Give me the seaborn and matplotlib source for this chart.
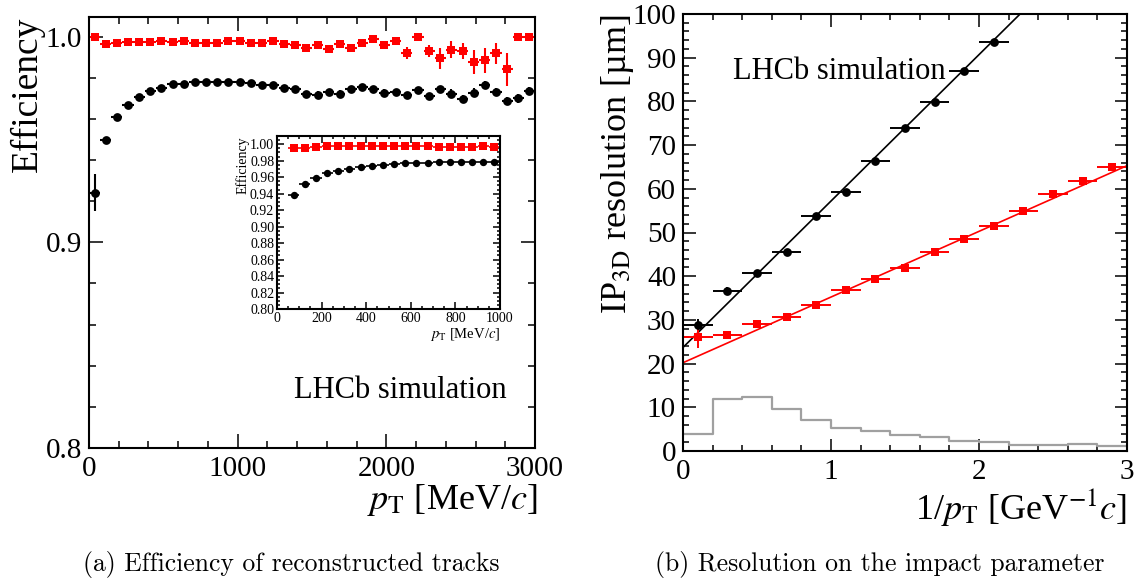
import numpy as np
import pandas as pd
import matplotlib
matplotlib.use("Agg")
import matplotlib.pyplot as plt
import seaborn as sns
from matplotlib.ticker import MultipleLocator, FormatStrFormatter

# ---------------- data ----------------
# (a) efficiency vs pT, 75 MeV bins
pt_centers = np.arange(37.5, 3000, 75.0)
pt_halfwidth = 37.5
eff_red = [1.000, 0.9962, 0.9967, 0.9975, 0.9975, 0.9975, 0.998, 0.9975, 0.998, 0.9967,
           0.9967, 0.9967, 0.9978, 0.9978, 0.9971, 0.9971, 0.9978, 0.9962, 0.9958, 0.9945,
           0.9958, 0.9939, 0.9963, 0.9944, 0.9967, 0.9989, 0.9957, 0.998, 0.9921, 0.9999,
           0.9931, 0.9894, 0.9937, 0.9931, 0.9877, 0.9885, 0.9918, 0.984, 1.000, 1.000]
eff_red_err = [0.0005] + [0.0008] * 27 + [0.003, 0.001, 0.003, 0.005, 0.004, 0.004,
                                           0.006, 0.006, 0.005, 0.008, 0.0005, 0.0005]
eff_black = [0.924, 0.9498, 0.9609, 0.9667, 0.9707, 0.9736, 0.9750, 0.9769, 0.9769, 0.9777,
             0.9777, 0.9777, 0.9777, 0.9777, 0.9775, 0.9766, 0.9763, 0.9750, 0.9744, 0.9723,
             0.9718, 0.9731, 0.9723, 0.9744, 0.9755, 0.9744, 0.9728, 0.9731, 0.9715, 0.9742,
             0.9710, 0.9745, 0.9723, 0.9697, 0.9728, 0.9764, 0.9731, 0.9685, 0.9699, 0.9734]
eff_black_err = [0.009] + [0.001] * 19 + [0.0015] * 12 + [0.002] * 8

# inset: 50 MeV bins up to 1000 MeV
inset_centers = np.arange(75, 1000, 50.0)
inset_halfwidth = 25
inset_black = [0.938, 0.952, 0.959, 0.965, 0.968, 0.9705, 0.9725, 0.974, 0.975, 0.976,
               0.9775, 0.9775, 0.9775, 0.978, 0.978, 0.978, 0.978, 0.978, 0.978]
inset_red = [0.996, 0.996, 0.997, 0.9975, 0.9975, 0.9975, 0.998, 0.9975, 0.998, 0.998,
             0.998, 0.998, 0.998, 0.9965, 0.9965, 0.9965, 0.997, 0.998, 0.997]

# (b) IP resolution vs 1/pT
invpt_black = [0.1, 0.3, 0.5, 0.7, 0.9, 1.1, 1.3, 1.5, 1.7, 1.9, 2.1]
ipres_black = [28.8, 36.7, 40.7, 45.5, 53.8, 59.2, 66.3, 74.0, 79.8, 86.9, 93.5]
ipres_black_err = [1.5, 0.8, 0.6, 0.5, 0.5, 0.5, 0.5, 0.5, 0.5, 0.5, 0.5]
invpt_red = [0.1, 0.3, 0.5, 0.7, 0.9, 1.1, 1.3, 1.5, 1.7, 1.9, 2.1, 2.3, 2.5, 2.7, 2.9]
ipres_red = [26.0, 26.5, 29.0, 30.7, 33.3, 36.9, 39.3, 41.9, 45.5, 48.5, 51.5, 54.9,
             58.7, 61.7, 65.1]
ipres_red_err = [2.5, 0.8, 0.6, 0.5, 0.5, 0.5, 0.5, 0.5, 0.5, 0.5, 0.5, 0.5, 0.5, 0.5, 0.5]
invpt_halfwidth = 0.1
fit_black = (23.7, 33.5)   # intercept, slope
fit_red = (20.2, 15.03)
hist_edges = [0.0, 0.2, 0.4, 0.6, 0.8, 1.0, 1.2, 1.4, 1.6, 1.8, 2.0, 2.2, 2.4, 2.6, 2.8, 3.0]
hist_vals = [3.9, 11.8, 12.4, 9.6, 7.2, 5.2, 4.6, 3.7, 3.1, 2.3, 2.1, 1.45, 1.45, 1.7, 1.2]

# ---------------- style ----------------
sns.set_theme(style="ticks")
SERIF = ["Liberation Serif", "DejaVu Serif"]
plt.rcParams["font.family"] = SERIF
plt.rcParams["mathtext.fontset"] = "stix"
plt.rcParams["axes.linewidth"] = 1.5
for k in ["text.color", "axes.labelcolor", "xtick.color", "ytick.color", "axes.edgecolor"]:
    plt.rcParams[k] = "black"

fig = plt.figure(figsize=(11.41, 5.86), dpi=100)

def root_style(ax, labelsize, major_len=9, minor_len=4.5, pad=5):
    ax.tick_params(which="both", direction="in", top=True, right=True,
                   width=1.1, colors="black", labelsize=labelsize, pad=pad,
                   labelfontfamily="Liberation Serif")
    ax.tick_params(which="major", length=major_len)
    ax.tick_params(which="minor", length=minor_len)
    for s in ax.spines.values():
        s.set_color("black")
        s.set_linewidth(1.5)
    ax.set_facecolor("white")

# ---------------- (a) ----------------
axa = fig.add_axes([89 / 1141, 1 - 448 / 586, 446 / 1141, 431 / 586])
axa.errorbar(pt_centers, eff_black, xerr=pt_halfwidth, yerr=eff_black_err, fmt="none",
             ecolor="black", elinewidth=1.5, capsize=0)
axa.errorbar(pt_centers, eff_red, xerr=pt_halfwidth, yerr=eff_red_err, fmt="none",
             ecolor="red", elinewidth=1.5, capsize=0)
sns.scatterplot(x=pt_centers, y=eff_black, ax=axa, marker="o", color="black", s=40,
                linewidth=0, zorder=3)
sns.scatterplot(x=pt_centers, y=eff_red, ax=axa, marker="s", color="red", s=40,
                linewidth=0, zorder=3)
axa.set_xlim(0, 3000)
axa.set_ylim(0.8, 1.0095)
axa.xaxis.set_major_locator(MultipleLocator(1000))
axa.xaxis.set_minor_locator(MultipleLocator(200))
axa.yaxis.set_major_locator(MultipleLocator(0.1))
axa.yaxis.set_minor_locator(MultipleLocator(0.02))
axa.yaxis.set_major_formatter(FormatStrFormatter("%.1f"))
root_style(axa, 21, major_len=10, minor_len=5)
axa.tick_params(axis="x", pad=6)
axa.set_xlabel(r"$p_{\mathrm{T}}$ [MeV/$c$]", fontsize=26, ha="right")
axa.xaxis.set_label_coords(1.005, -0.08)
axa.set_ylabel("Efficiency", fontsize=27, loc="top")
axa.yaxis.set_label_coords(-0.1, 1.0)
axa.text(0.937, 0.116, "LHCb simulation", transform=axa.transAxes, fontsize=22,
         ha="right", va="baseline")

# inset
axi = fig.add_axes([277 / 1141, 1 - 309 / 586, 223 / 1141, 173 / 586])
axi.errorbar(inset_centers, inset_black, xerr=inset_halfwidth, fmt="none",
             ecolor="black", elinewidth=1.2, capsize=0)
axi.errorbar(inset_centers, inset_red, xerr=inset_halfwidth, fmt="none",
             ecolor="red", elinewidth=1.2, capsize=0)
sns.scatterplot(x=inset_centers, y=inset_black, ax=axi, marker="o", color="black", s=28,
                linewidth=0, zorder=3)
sns.scatterplot(x=inset_centers, y=inset_red, ax=axi, marker="s", color="red", s=30,
                linewidth=0, zorder=3)
axi.set_xlim(0, 1000)
axi.set_ylim(0.8, 1.01)
axi.xaxis.set_major_locator(MultipleLocator(200))
axi.xaxis.set_minor_locator(MultipleLocator(50))
axi.yaxis.set_major_locator(MultipleLocator(0.02))
axi.yaxis.set_minor_locator(MultipleLocator(0.005))
axi.yaxis.set_major_formatter(FormatStrFormatter("%.2f"))
root_style(axi, 10, major_len=5, minor_len=2.5, pad=2)
axi.set_xlabel(r"$p_{\mathrm{T}}$ [MeV/$c$]", fontsize=10.5, ha="right")
axi.xaxis.set_label_coords(1.0, -0.1)
axi.set_ylabel("Efficiency", fontsize=10, loc="top")
axi.yaxis.set_label_coords(-0.125, 1.0)

# ---------------- (b) ----------------
axb = fig.add_axes([683 / 1141, 1 - 451 / 586, 444 / 1141, 437 / 586])
hist_df = pd.DataFrame({
    "center": [(a + b) / 2 for a, b in zip(hist_edges[:-1], hist_edges[1:])],
    "w": hist_vals,
})
sns.histplot(data=hist_df, x="center", weights="w", bins=hist_edges,
             element="step", fill=False, color="#a0a0a0", linewidth=1.6, ax=axb)
xfit = np.array([0.0, 3.0])
sns.lineplot(x=xfit, y=fit_black[0] + fit_black[1] * xfit, ax=axb, color="black",
             linewidth=1.2)
sns.lineplot(x=xfit, y=fit_red[0] + fit_red[1] * xfit, ax=axb, color="red",
             linewidth=1.2)
axb.errorbar(invpt_black, ipres_black, xerr=invpt_halfwidth, yerr=ipres_black_err,
             fmt="none", ecolor="black", elinewidth=1.4, capsize=0)
axb.errorbar(invpt_red, ipres_red, xerr=invpt_halfwidth, yerr=ipres_red_err,
             fmt="none", ecolor="red", elinewidth=1.4, capsize=0)
sns.scatterplot(x=invpt_black, y=ipres_black, ax=axb, marker="o", color="black", s=40,
                linewidth=0, zorder=3)
sns.scatterplot(x=invpt_red, y=ipres_red, ax=axb, marker="s", color="red", s=36,
                linewidth=0, zorder=3)
axb.set_xlim(0, 3)
axb.set_ylim(0, 100)
axb.xaxis.set_major_locator(MultipleLocator(1))
axb.xaxis.set_minor_locator(MultipleLocator(0.2))
axb.yaxis.set_major_locator(MultipleLocator(10))
axb.yaxis.set_minor_locator(MultipleLocator(2))
root_style(axb, 21, major_len=9, minor_len=4.5)
axb.tick_params(axis="x", pad=6)
axb.set_xlabel(r"1/$p_{\mathrm{T}}$ [GeV$^{\mathrm{-1}}$$c$]", fontsize=26, ha="right")
axb.xaxis.set_label_coords(1.0, -0.08)
axb.set_ylabel(r"IP$_{\mathrm{3D}}$ resolution [µm]", fontsize=26, loc="top")
axb.yaxis.set_label_coords(-0.105, 1.0)
axb.text(0.113, 0.851, "LHCb simulation", transform=axb.transAxes, fontsize=22,
         ha="left", va="baseline")

# captions
fig.text(291 / 1141, 1 - 565 / 586, "(a) Efficiency of reconstructed tracks",
         fontsize=18.5, family="cmr10", ha="center", va="center")
fig.text(880 / 1141, 1 - 565 / 586, "(b) Resolution on the impact parameter",
         fontsize=18.5, family="cmr10", ha="center", va="center")

fig.savefig("out.png", dpi=100, facecolor="white")
